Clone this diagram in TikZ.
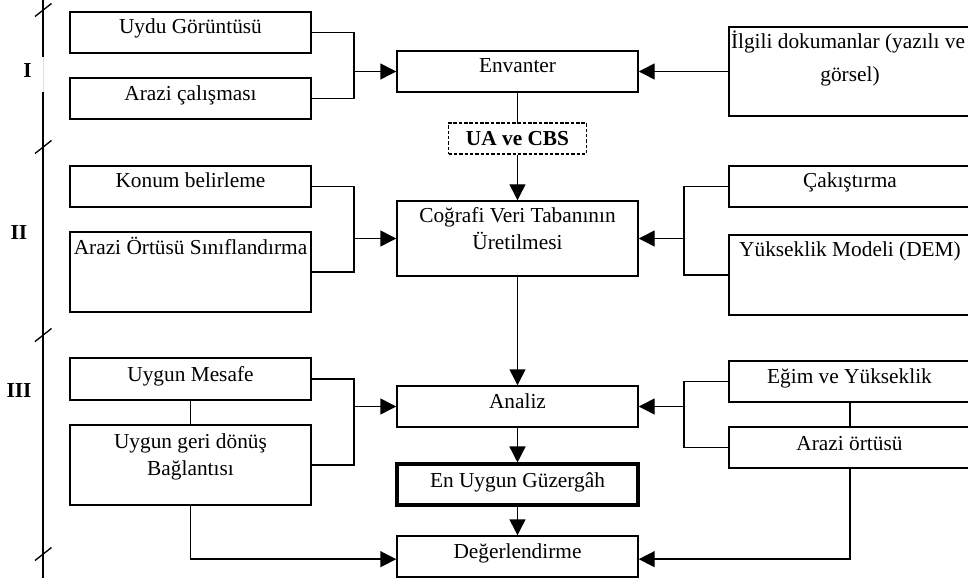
\documentclass[tikz,border=0pt]{standalone}
\usepackage{fontspec}
\setmainfont{Liberation Serif}
\usetikzlibrary{arrows.meta,fit}
\begin{document}
\begin{tikzpicture}[x=0.75pt,y=-0.75pt,
  box/.style={draw,line width=1.1pt,inner sep=0pt},
  dbox/.style={draw,line width=0.9pt,inner sep=0pt,dash pattern=on 2.6pt off 1.4pt},
  txt/.style={font=\fontsize{16}{19}\selectfont,inner sep=0pt,anchor=base},
  btxt/.style={font=\fontsize{16}{19}\selectfont\bfseries,inner sep=0pt,anchor=base},
  arr/.style={line width=1.1pt,-{Triangle[length=12pt,width=12pt]}},
  ln/.style={line width=1.1pt},
  tick/.style={line width=1pt}]
\useasboundingbox (0,0) rectangle (968,581);
\clip (0,0) rectangle (968,581);
\fill[white] (0,0) rectangle (968,581);

% ---------- boxes ----------
\node[box,fit={(70,12)(311,53)}] (uydu) {};
\node[txt] (uyduT) at (190.5,34) {Uydu Görüntüsü};
\node[box,fit={(70,78)(311,119)}] (arazi) {};
\node[txt] (araziT) at (190.5,101) {Arazi çalışması};
\node[box,fit={(397,51)(638,92)}] (env) {};
\node[txt] (envT) at (517.5,73) {Envanter};
\node[box,fit={(729,27)(971,116)}] (ilg) {};
\node[txt] (ilgT1) at (848,49) {İlgili dokumanlar (yazılı ve};
\node[txt] (ilgT2) at (850,82) {görsel)};
\node[dbox,fit={(448.5,123)(586.5,154)}] (ua) {};
\node[btxt] (uaT) at (517.5,146) {UA ve CBS};

\node[box,fit={(70,166)(311,207)}] (konum) {};
\node[txt] (konumT) at (190.5,188) {Konum belirleme};
\node[box,fit={(70,232)(311,312)}] (aos) {};
\node[txt] (aosT) at (190.5,255) {Arazi Örtüsü Sınıflandırma};
\node[box,fit={(397,201)(638,276)}] (cvt) {};
\node[txt] (cvtT1) at (517.5,223) {Coğrafi Veri Tabanının};
\node[txt] (cvtT2) at (517.5,250) {Üretilmesi};
\node[box,fit={(729,166)(971,207)}] (cak) {};
\node[txt] (cakT) at (850,188) {Çakıştırma};
\node[box,fit={(729,235)(971,315)}] (dem) {};
\node[txt] (demT) at (850,257) {Yükseklik Modeli (DEM)};

\node[box,fit={(70,358)(311,400)}] (mes) {};
\node[txt] (mesT) at (190.5,381) {Uygun Mesafe};
\node[box,fit={(70,425)(311,505)}] (geri) {};
\node[txt] (geriT1) at (190.5,448) {Uygun geri dönüş};
\node[txt] (geriT2) at (190.5,475) {Bağlantısı};
\node[box,fit={(397,386)(638,427)}] (anl) {};
\node[txt] (anlT) at (517.5,408) {Analiz};
\node[box,line width=2.3pt,fit={(397,464)(638,505)}] (guz) {};
\node[txt] (guzT) at (517.5,487) {En Uygun Güzergâh};
\node[box,fit={(397,536)(638,577)}] (deg) {};
\node[txt] (degT) at (517.5,558) {Değerlendirme};
\node[box,fit={(729,361)(971,402)}] (egim) {};
\node[txt] (egimT) at (849.5,383) {Eğim ve Yükseklik};
\node[box,fit={(729,427)(971,468)}] (aort) {};
\node[txt] (aortT) at (849.5,450) {Arazi örtüsü};

% ---------- junctions ----------
\coordinate (jL1) at (354,71.5);
\coordinate (jL2) at (354,238.5);
\coordinate (jL3) at (354,406.5);
\coordinate (jR2) at (684,238.5);
\coordinate (jR3) at (684,406.5);

% ---------- connectors ----------
\draw[ln] (uydu.east) -| (jL1);
\draw[ln] (arazi.east) -| (jL1);
\draw[arr] (jL1) -- (env.west);
\draw[arr] (ilg.west) -- (env.east);
\draw[ln] (env.south) -- (ua.north);
\draw[arr] (ua.south) -- (cvt.north);

\draw[ln] (konum.east) -| (jL2);
\draw[ln] (aos.east) -| (jL2);
\draw[arr] (jL2) -- (cvt.west);
\draw[ln] (cak.west) -| (jR2);
\draw[ln] (dem.west) -| (jR2);
\draw[arr] (jR2) -- (cvt.east);
\draw[arr] (cvt.south) -- (anl.north);

\draw[ln] (mes.south) -- (geri.north);
\draw[ln] (mes.east) -| (jL3);
\draw[ln] (geri.east) -| (jL3);
\draw[arr] (jL3) -- (anl.west);
\draw[ln] (egim.south) -- (aort.north);
\draw[ln] (egim.west) -| (jR3);
\draw[ln] (aort.west) -| (jR3);
\draw[arr] (jR3) -- (anl.east);
\draw[arr] (anl.south) -- (guz.north);
\draw[arr] (guz.south) -- (deg.north);
\draw[arr] (geri.south) |- ([yshift=-2pt]deg.west);
\draw[arr] (aort.south) |- ([yshift=-2pt]deg.east);

% ---------- phase bar ----------
\draw[ln] (43,0) -- (43,57);
\draw[line width=0.6pt,black!12] (43,57) -- (43,92);
\draw[ln] (43,92) -- (43,578);
\foreach \t in {10,147,335,554}
  \draw[tick] (35,\t+6.5) -- (51.5,\t-6.5);
\node[btxt] (lI) at (27.5,78) {I};
\node[btxt] (lII) at (19,240) {II};
\node[btxt] (lIII) at (19,397) {III};
\end{tikzpicture}
\end{document}
